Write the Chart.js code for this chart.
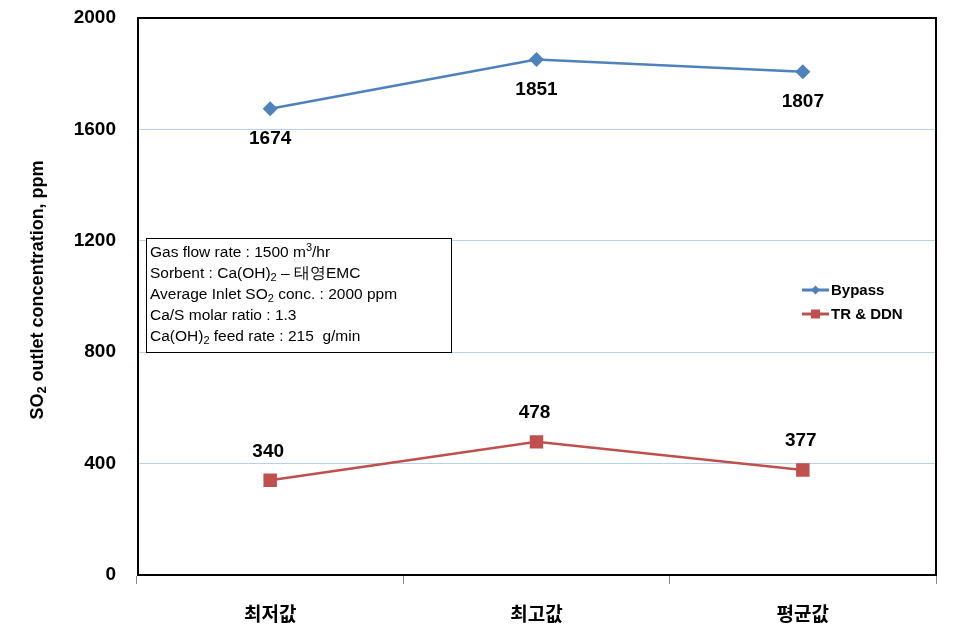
<!DOCTYPE html>
<html>
<head>
<meta charset="utf-8">
<script src="https://cdn.jsdelivr.net/npm/chart.js@4"></script>
<style>
  html, body { margin: 0; padding: 0; background: #ffffff; }
  #wrap { width: 979px; height: 641px; }
</style>
</head>
<body>
<div id="wrap"><canvas id="c" width="979" height="641"></canvas></div>
<script>
const categories = ['최저값', '최고값', '평균값'];
const bypassValues = [1674, 1851, 1807];
const trddnValues = [340, 478, 377];
const seriesNames = ['Bypass', 'TR & DDN'];
const yMin = 0, yMax = 2000, yStep = 400;
const yTitleParts = [['SO', 'n'], ['2', 'sub'], [' outlet concentration, ppm', 'n']];
const infoLines = [
  [['Gas flow rate : 1500 m', 'n'], ['3', 'sup'], ['/hr', 'n']],
  [['Sorbent : Ca(OH)', 'n'], ['2', 'sub'], [' \u2013 태영EMC', 'n']],
  [['Average Inlet SO', 'n'], ['2', 'sub'], [' conc. : 2000 ppm', 'n']],
  [['Ca/S molar ratio : 1.3', 'n']],
  [['Ca(OH)', 'n'], ['2', 'sub'], [' feed rate : 215  g/min', 'n']]
];

const BLUE = '#4f81bd';
const RED = '#c0504d';
const FONT = '"Liberation Sans", Arial, sans-serif';

function drawParts(ctx, parts, x, y, size, weight) {
  let cx = x;
  for (const [t, kind] of parts) {
    let s = size, dy = 0;
    if (kind === 'sub') { s = Math.round(size * 0.72); dy = size * 0.25; }
    if (kind === 'sup') { s = Math.round(size * 0.72); dy = -size * 0.35; }
    ctx.font = weight + ' ' + s + 'px ' + FONT;
    ctx.fillText(t, cx, y + dy);
    cx += ctx.measureText(t).width;
  }
  return cx - x;
}
function measureParts(ctx, parts, size, weight) {
  let w = 0;
  for (const [t, kind] of parts) {
    let s = (kind === 'n') ? size : Math.round(size * 0.72);
    ctx.font = weight + ' ' + s + 'px ' + FONT;
    w += ctx.measureText(t).width;
  }
  return w;
}

const decorPlugin = {
  id: 'decor',
  beforeDatasetsDraw(chart) {
    const ctx = chart.ctx, a = chart.chartArea;
    ctx.save();
    ctx.strokeStyle = '#000';
    ctx.lineWidth = 2;
    ctx.strokeRect(a.left + 1, a.top, a.right - a.left - 1, a.bottom - a.top);
    ctx.restore();
  },
  afterDatasetsDraw(chart) {
    const ctx = chart.ctx;
    ctx.save();
    // data labels
    ctx.fillStyle = '#000';
    ctx.font = 'bold 19px ' + FONT;
    ctx.textAlign = 'center';
    ctx.textBaseline = 'middle';
    const m0 = chart.getDatasetMeta(0), m1 = chart.getDatasetMeta(1);
    m0.data.forEach((p, i) => ctx.fillText(String(bypassValues[i]), p.x, p.y + 30));
    m1.data.forEach((p, i) => ctx.fillText(String(trddnValues[i]), p.x - 2, p.y - 29));

    // Y axis title
    ctx.save();
    ctx.translate(38, 290);
    ctx.rotate(-Math.PI / 2);
    ctx.textAlign = 'left';
    ctx.textBaseline = 'middle';
    const tw = measureParts(ctx, yTitleParts, 18, 'bold');
    drawParts(ctx, yTitleParts, -tw / 2, 0, 18, 'bold');
    ctx.restore();

    // info box
    ctx.fillStyle = '#fff';
    ctx.fillRect(146, 238, 305, 114);
    ctx.strokeStyle = '#000';
    ctx.lineWidth = 1;
    ctx.strokeRect(146.5, 238.5, 305, 114);
    ctx.fillStyle = '#000';
    ctx.textAlign = 'left';
    ctx.textBaseline = 'middle';
    infoLines.forEach((parts, i) => drawParts(ctx, parts, 150, 253 + i * 21, 15.5, 'normal'));

    // legend
    const leg = [[seriesNames[0], BLUE, 'diamond', 290], [seriesNames[1], RED, 'square', 314]];
    for (const [name, col, shape, y] of leg) {
      ctx.strokeStyle = col;
      ctx.lineWidth = 3;
      ctx.beginPath();
      ctx.moveTo(802, y); ctx.lineTo(829, y); ctx.stroke();
      ctx.fillStyle = col;
      ctx.beginPath();
      if (shape === 'diamond') {
        ctx.moveTo(815.5, y - 4.5); ctx.lineTo(820, y); ctx.lineTo(815.5, y + 4.5); ctx.lineTo(811, y);
      } else {
        ctx.rect(811, y - 4.5, 9, 9);
      }
      ctx.fill();
      ctx.fillStyle = '#000';
      ctx.font = 'bold 15px ' + FONT;
      ctx.fillText(name, 831, y + 1);
    }
    ctx.restore();
  }
};

new Chart(document.getElementById('c'), {
  type: 'line',
  data: {
    labels: categories,
    datasets: [
      {
        label: seriesNames[0], data: bypassValues,
        borderColor: BLUE, backgroundColor: BLUE, borderWidth: 2.5,
        pointStyle: 'rectRot', pointRadius: 7.5, pointHoverRadius: 7.5,
        pointBorderWidth: 0, tension: 0
      },
      {
        label: seriesNames[1], data: trddnValues,
        borderColor: RED, backgroundColor: RED, borderWidth: 2.5,
        pointStyle: 'rect', pointRadius: 9.5, pointHoverRadius: 9.5,
        pointBorderWidth: 0, tension: 0
      }
    ]
  },
  options: {
    responsive: false,
    animation: false,
    events: [],
    layout: { padding: { top: 18, right: 43, bottom: 0, left: 0 } },
    plugins: { legend: { display: false }, tooltip: { enabled: false } },
    scales: {
      x: {
        type: 'category',
        offset: true,
        grid: { offset: true, drawOnChartArea: false, drawTicks: true, tickLength: 9, color: '#888', lineWidth: 1 },
        border: { color: '#888', width: 1 },
        ticks: { color: '#000', font: { family: '"Noto Sans CJK KR", sans-serif', size: 19, weight: 'bold' }, padding: 18, maxRotation: 0 },
        afterFit(s) { s.height = 66; s.paddingLeft = 0; s.paddingRight = 0; }
      },
      y: {
        min: yMin, max: yMax,
        grid: { color: '#b7d1ee', lineWidth: 1, drawTicks: false },
        border: { color: '#888', width: 1 },
        ticks: { stepSize: yStep, color: '#000', font: { family: FONT, size: 19, weight: 'bold' }, padding: 21,
                 callback: (v) => String(v) },
        afterFit(s) { s.width = 137; s.paddingTop = 0; s.paddingBottom = 0; }
      }
    }
  },
  plugins: [decorPlugin]
});
</script>
</body>
</html>
